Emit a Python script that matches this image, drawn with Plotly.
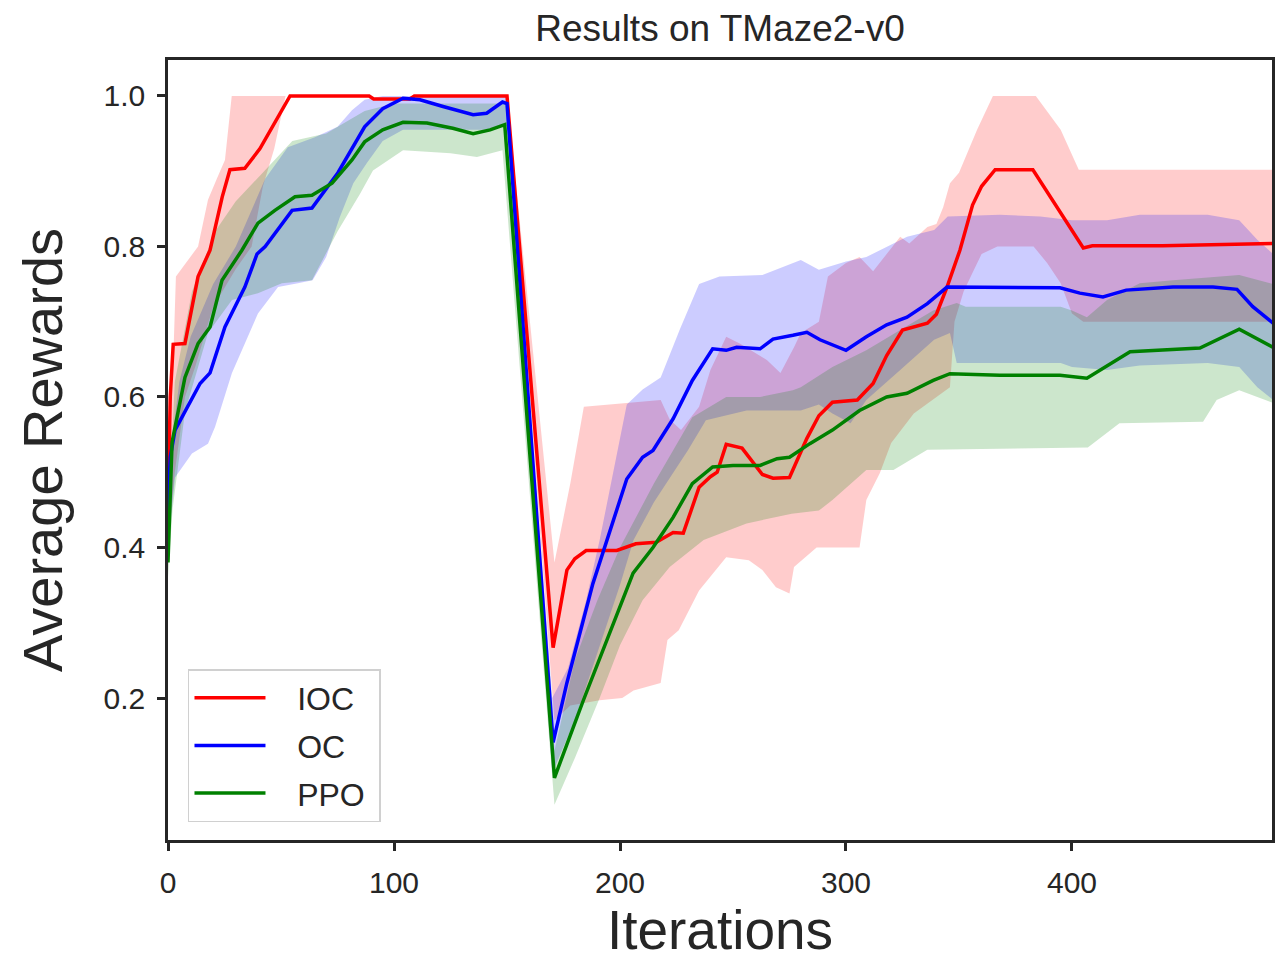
import plotly.graph_objects as go

# IOC (red)
ioc_x = [0, 1, 2.3, 7.5, 11, 13.3, 18.6, 20.8, 24, 27.4, 34, 40.7, 54, 89, 91, 107, 109, 150,
         170.4, 176.5, 180, 185, 198.6, 207, 216, 223.5, 228, 235, 240, 243, 247, 254, 259, 263,
         267.7, 275, 282.7, 288, 294, 305, 312, 318, 325, 336, 340, 344.7, 350.4, 356, 360, 366,
         382.7, 405, 409, 440, 489]
ioc_mean = [0.45, 0.60, 0.67, 0.671, 0.725, 0.76, 0.795, 0.826, 0.866, 0.902, 0.904, 0.93, 1.0, 1.0,
            0.996, 0.996, 1.0, 1.0, 0.267, 0.37, 0.385, 0.396, 0.396, 0.405, 0.407, 0.42, 0.419,
            0.48, 0.494, 0.5, 0.537, 0.532, 0.512, 0.497, 0.492, 0.493, 0.545, 0.575, 0.593,
            0.596, 0.618, 0.655, 0.689, 0.698, 0.71, 0.746, 0.795, 0.855, 0.88, 0.902, 0.902,
            0.798, 0.801, 0.801, 0.804]
ioc_hi_x = [0, 2, 3.5, 8.4, 13.3, 17.7, 21.6, 25.2, 28.2, 150, 171, 175, 178, 184, 218, 222, 227,
            235, 240, 247, 253, 265, 271, 277, 280, 288, 292, 300, 306, 312, 324, 328, 336, 340,
            343, 346, 350, 358, 365, 384, 395, 403, 489]
ioc_hi = [0.45, 0.62, 0.76, 0.78, 0.80, 0.862, 0.89, 0.915, 1.0, 1.0, 0.38, 0.44, 0.485, 0.587,
          0.596, 0.57, 0.556, 0.587, 0.636, 0.68, 0.671, 0.649, 0.632, 0.666, 0.685, 0.70, 0.76,
          0.778, 0.786, 0.767, 0.813, 0.804, 0.826, 0.83, 0.852, 0.884, 0.898, 0.955, 1.0, 1.0,
          0.955, 0.902, 0.902]
ioc_lo_x = [0, 3, 7.5, 12, 20, 30, 37, 42, 47, 52, 150, 171, 178, 191, 201, 206, 218, 221, 226,
            235, 247, 257, 263, 269, 275, 277, 287, 306, 309, 315, 320, 330, 346, 348, 352, 356,
            360, 367, 383, 389, 395, 400, 405, 489]
ioc_lo = [0.40, 0.50, 0.60, 0.64, 0.72, 0.77, 0.80, 0.88, 0.93, 1.0, 1.0, 0.17, 0.19, 0.197, 0.2,
          0.21, 0.22, 0.277, 0.29, 0.343, 0.387, 0.383, 0.37, 0.347, 0.339, 0.374, 0.4, 0.4,
          0.463, 0.499, 0.539, 0.578, 0.613, 0.70, 0.74, 0.765, 0.79, 0.8, 0.8, 0.778, 0.751,
          0.711, 0.70, 0.70]

# OC (blue)
oc_x = [0, 1, 3.1, 14.2, 18.6, 25.2, 34, 39.4, 43, 54.9, 63.7, 75.2, 87, 95, 104, 111.5, 121.7,
        135, 141, 148, 150, 170.4, 176.5, 188, 203, 210, 214.6, 223.5, 232, 241, 247, 251.6, 262,
        267.7, 276.5, 282.7, 288.5, 300, 309, 318, 327, 336, 344.7, 368, 394.7, 403.5, 413.7, 424,
        444.7, 462.4, 473, 480, 489]
oc_mean = [0.45, 0.52, 0.556, 0.618, 0.632, 0.693, 0.746, 0.79, 0.80, 0.848, 0.851, 0.898, 0.959,
           0.983, 0.997, 0.995, 0.986, 0.975, 0.977, 0.992, 0.99, 0.141, 0.22, 0.352, 0.491, 0.52,
           0.529, 0.571, 0.622, 0.664, 0.662, 0.666, 0.664, 0.677, 0.682, 0.686, 0.676, 0.662,
           0.68, 0.696, 0.706, 0.724, 0.746, 0.745, 0.745, 0.738, 0.733, 0.742, 0.746, 0.746,
           0.743, 0.72, 0.698]
oc_hi_x = [0, 5, 10, 20, 30, 43, 53, 65, 75, 81.4, 87, 95, 150, 170, 177, 185, 191, 197, 203, 210,
           218, 226.5, 235, 244, 263, 280, 288, 300, 309, 327, 339, 345, 368, 386, 400, 415.5,
           430, 460, 474, 482, 489]
oc_hi = [0.5, 0.62, 0.68, 0.75, 0.8, 0.89, 0.932, 0.945, 0.959, 0.981, 0.995, 1.0, 1.0, 0.2,
         0.24, 0.33, 0.41, 0.5, 0.59, 0.61, 0.626, 0.69, 0.75, 0.76, 0.762, 0.782, 0.769, 0.78,
         0.786, 0.813, 0.822, 0.84, 0.842, 0.84, 0.835, 0.835, 0.842, 0.842, 0.835, 0.809, 0.79]
oc_lo_x = [0, 3.1, 10.6, 17.7, 20.8, 28.3, 39.8, 48.7, 57.5, 64, 70, 76, 82, 88, 95, 104, 125,
           140, 150, 170, 180, 190, 200, 206, 215, 230, 238, 256, 280, 288, 294, 302, 309, 324,
           339, 346, 349, 395, 400, 415.5, 430, 460, 474, 482, 489]
oc_lo = [0.40, 0.493, 0.525, 0.538, 0.56, 0.632, 0.711, 0.746, 0.751, 0.755, 0.786, 0.839, 0.884,
         0.911, 0.94, 0.955, 0.955, 0.955, 0.96, 0.1, 0.17, 0.26, 0.35, 0.41, 0.46, 0.529, 0.569,
         0.582, 0.582, 0.59, 0.578, 0.565, 0.596, 0.636, 0.676, 0.685, 0.645, 0.645, 0.64, 0.636,
         0.642, 0.645, 0.64, 0.613, 0.596]

# PPO (green)
ppo_x = [0, 1.8, 7.5, 13.3, 18.6, 23.9, 32.7, 39.8, 47.3, 56.2, 63.7, 72.6, 81.4, 87, 95, 104,
         114.6, 126, 135, 142.5, 149, 171, 183.8, 195.6, 205.8, 214.6, 223.5, 232, 241, 250, 262,
         269.5, 275, 284, 294, 306, 318, 327, 338.6, 346, 368, 394.7, 406.6, 425.7, 456.6, 474,
         489]
ppo_mean = [0.38, 0.54, 0.626, 0.671, 0.693, 0.755, 0.795, 0.831, 0.848, 0.866, 0.868, 0.884,
            0.915, 0.939, 0.955, 0.965, 0.964, 0.957, 0.95, 0.955, 0.962, 0.094, 0.197, 0.286,
            0.366, 0.4, 0.44, 0.485, 0.507, 0.509, 0.509, 0.518, 0.52, 0.538, 0.556, 0.582, 0.60,
            0.605, 0.622, 0.631, 0.629, 0.629, 0.625, 0.66, 0.665, 0.69, 0.666]
ppo_hi_x = [0, 3, 10.6, 20.8, 30, 41.6, 55, 70, 87, 100, 150, 171, 180, 190, 200, 215, 232, 247,
            262, 276.5, 280, 294, 309, 324, 338.6, 349, 353, 395, 400, 406.6, 415.5, 430, 444.7,
            474, 489]
ppo_hi = [0.42, 0.62, 0.74, 0.82, 0.86, 0.897, 0.94, 0.95, 0.98, 0.99, 0.99, 0.13, 0.25, 0.33,
          0.40, 0.485, 0.573, 0.60, 0.60, 0.609, 0.613, 0.64, 0.662, 0.689, 0.715, 0.725, 0.72,
          0.72, 0.715, 0.706, 0.729, 0.751, 0.755, 0.762, 0.75]
ppo_lo_x = [0, 2, 7.5, 17.7, 28.3, 39.8, 50.4, 63.7, 75, 85, 90.7, 104, 125, 136.7, 148, 171, 180,
            191, 200, 210, 222, 237, 256, 276, 288, 294, 309, 321, 336, 407, 421, 458, 464, 474,
            489]
ppo_lo = [0.36, 0.45, 0.58, 0.685, 0.729, 0.738, 0.751, 0.755, 0.82, 0.87, 0.901, 0.928, 0.924,
          0.919, 0.928, 0.058, 0.12, 0.2, 0.27, 0.33, 0.374, 0.41, 0.432, 0.445, 0.449, 0.463,
          0.503, 0.503, 0.53, 0.533, 0.565, 0.567, 0.596, 0.609, 0.592]

series = [
    ('IOC', ioc_x, ioc_mean, ioc_hi_x, ioc_hi, ioc_lo_x, ioc_lo, '#ff0000', 'rgba(255,0,0,0.2)'),
    ('OC', oc_x, oc_mean, oc_hi_x, oc_hi, oc_lo_x, oc_lo, '#0000ff', 'rgba(0,0,255,0.2)'),
    ('PPO', ppo_x, ppo_mean, ppo_hi_x, ppo_hi, ppo_lo_x, ppo_lo, '#008000', 'rgba(0,128,0,0.2)'),
]

ink = '#262626'
font_family = 'Liberation Sans, Arial, sans-serif'
nb = '\u00a0'

fig = go.Figure()

# shaded bands first
for name, x, m, hx, hy, lx, ly, col, fillcol in series:
    fig.add_trace(go.Scatter(
        x=hx + lx[::-1], y=hy + ly[::-1],
        fill='toself', fillcolor=fillcol, mode='none',
        hoverinfo='skip', showlegend=False,
    ))

# mean lines on top (padding spaces mimic the matplotlib legend spacing)
for name, x, m, hx, hy, lx, ly, col, fillcol in series:
    fig.add_trace(go.Scatter(
        x=x, y=m, mode='lines', name=nb * 3 + name + nb,
        legendgroup=name,
        line=dict(color=col, width=3.5),
    ))

axis_common = dict(
    showgrid=False, zeroline=False, automargin=False,
    showline=True, linecolor=ink, linewidth=2.5, mirror=True,
    ticks='outside', ticklen=8, tickwidth=2.5, tickcolor=ink,
    ticklabelstandoff=6,
    tickfont=dict(size=30, color=ink, family=font_family),
)

fig.update_layout(
    width=1277, height=961,
    margin=dict(l=168, r=5, t=60, b=121),
    paper_bgcolor='white', plot_bgcolor='white',
    font=dict(family=font_family, color=ink),
    title=dict(text='Results on TMaze2-v0', x=0.5, xref='paper', xanchor='center',
               y=1 - 28 / 961, yref='container', yanchor='middle',
               font=dict(size=37, color=ink)),
    xaxis=dict(range=[0, 488.5], tickvals=[0, 100, 200, 300, 400],
               title=dict(text='Iterations', font=dict(size=55, color=ink), standoff=13),
               **axis_common),
    yaxis=dict(range=[0.0113, 1.0478], tickvals=[0.2, 0.4, 0.6, 0.8, 1.0], tickformat='.1f',
               title=dict(text='Average Rewards', font=dict(size=56, color=ink), standoff=23),
               **axis_common),
    legend=dict(
        x=0.0181, y=0.023, xanchor='left', yanchor='bottom',
        bgcolor='rgba(255,255,255,0.8)', bordercolor='#d0d0d0', borderwidth=1.5,
        font=dict(size=32, color=ink, family=font_family),
        itemwidth=71, tracegroupgap=3,
    ),
)

# drop the browser's default body margin so the figure sits at the page origin
fig.write_html('out.html', config={'displayModeBar': False},
               post_script="document.body.style.margin='0';")
